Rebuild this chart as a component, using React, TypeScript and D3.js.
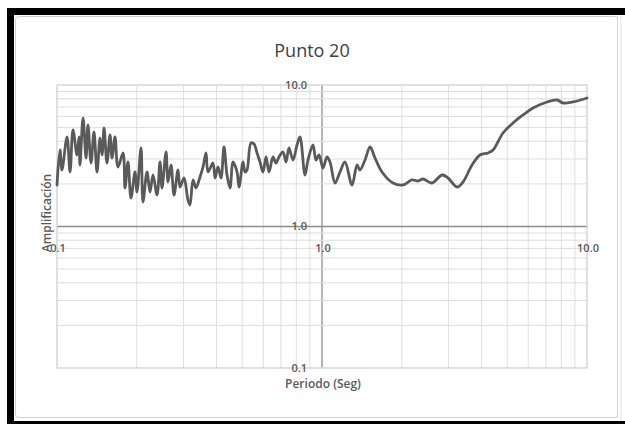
import React from "react";
import * as d3 from "d3";

const periods = [
  0.1, 0.1026, 0.1044, 0.1091, 0.112, 0.1149, 0.119, 0.1211, 0.1221, 0.1254,
  0.1287, 0.1309, 0.1344, 0.1379, 0.1416, 0.1453, 0.1479, 0.1505, 0.1544, 0.1585,
  0.1613, 0.1655, 0.1699, 0.1775, 0.1806, 0.1853, 0.1902, 0.197, 0.2004, 0.2075,
  0.2111, 0.2186, 0.2244, 0.2303, 0.2385, 0.2448, 0.249, 0.2579, 0.2624, 0.2693,
  0.2764, 0.2862, 0.2912, 0.3015, 0.3121, 0.3176, 0.326, 0.3346, 0.3464, 0.3556,
  0.365, 0.3714, 0.3879, 0.3947, 0.4051, 0.4158, 0.4268, 0.4381, 0.4497, 0.4616,
  0.4779, 0.4863, 0.5035, 0.5123, 0.5213, 0.5397, 0.554, 0.5686, 0.5836, 0.599,
  0.6149, 0.631, 0.6533, 0.6705, 0.6882, 0.7126, 0.7314, 0.7507, 0.7773, 0.8047,
  0.826, 0.8627, 0.8855, 0.9247, 0.9492, 0.9743, 1.009, 1.044, 1.072, 1.12,
  1.169, 1.221, 1.298, 1.356, 1.391, 1.453, 1.518, 1.585, 1.684, 1.853,
  2.021, 2.186, 2.303, 2.405, 2.601, 2.838, 2.989, 3.232, 3.405, 3.683,
  3.947, 4.231, 4.419, 4.82, 5.257, 5.735, 6.256, 7.065, 7.705, 8.117,
  8.855, 10.0,
];

const amplification = [
  1.965, 3.473, 2.508, 4.291, 2.428, 4.808, 3.201, 4.291, 2.72, 5.846,
  3.049, 5.214, 2.81, 4.654, 2.428, 4.222, 3.201, 4.967, 2.81, 4.433,
  3.049, 4.291, 2.633, 3.307, 1.871, 2.856, 1.59, 2.428, 1.753, 3.588,
  1.49, 2.428, 1.753, 2.312, 1.67, 2.856, 1.871, 3.361, 2.063, 2.72,
  1.67, 2.508, 1.902, 2.202, 1.539, 1.419, 2.132, 1.871, 2.238, 2.633,
  3.307, 2.428, 2.81, 2.202, 2.633, 2.202, 3.647, 2.312, 1.871, 2.856,
  2.428, 1.902, 2.856, 2.428, 2.508, 3.892, 3.829, 3.307, 2.856, 2.428,
  3.099, 2.428, 3.099, 2.81, 3.099, 3.361, 2.856, 3.588, 2.951, 3.767,
  4.291, 2.312, 2.951, 3.767, 2.951, 3.201, 2.591, 3.099, 2.856, 2.03,
  2.428, 2.856, 1.965, 2.72, 2.508, 2.951, 3.647, 3.049, 2.428, 2.03,
  1.965, 2.132, 2.097, 2.166, 2.03, 2.312, 2.202, 1.902, 2.063, 2.72,
  3.201, 3.307, 3.473, 4.579, 5.389, 6.138, 6.878, 7.584, 7.834, 7.461,
  7.584, 8.092,
];

const xTickValues = [0.1, 1, 10];
const xTickLabels = ["0.1", "1.0", "10.0"];
const yTickValues = [0.1, 1, 10];
const yTickLabels = ["0.1", "1.0", "10.0"];

const title = "Punto 20";
const xTitle = "Periodo (Seg)";
const yTitle = "Amplificación";

const W = 625;
const H = 424;
const left = 57;
const right = 587;
const top = 85;
const bottom = 368;

const font = "'Open Sans', 'Noto Sans', sans-serif";

export default function App() {
  const x = d3.scaleLog().domain([0.1, 10]).range([left, right]);
  const y = d3.scaleLog().domain([0.1, 10]).range([bottom, top]);

  const gridVals: number[] = [];
  [0.1, 1].forEach((d) => {
    for (let k = 1; k <= 9; k++) gridVals.push(+(k * d).toFixed(2));
  });
  gridVals.push(10);

  const data: [number, number][] = periods.map((p, i) => [p, amplification[i]]);
  const line = d3
    .line<[number, number]>()
    .x((d) => x(d[0]))
    .y((d) => y(d[1]))
    .curve(d3.curveCatmullRom.alpha(0.5));

  return (
    <svg
      width={W}
      height={H}
      style={{ position: "absolute", left: 0, top: 0, background: "#fff" }}
    >
      {/* photo frame */}
      <rect x={7} y={8} width={618} height={416} fill="#000" />
      <rect x={14} y={15} width={611} height={406} fill="#fff" />
      <rect
        x={15.5}
        y={16.5}
        width={602}
        height={401}
        rx={3}
        fill="#fff"
        stroke="#cfcfcf"
        strokeWidth={1}
      />
      <rect x={617} y={16} width={1} height={402} fill="#d6d6d6" />
      <rect x={620.5} y={16} width={1} height={405} fill="#e2e2e2" />

      {/* grid */}
      <g>
        {gridVals.map((v, i) => (
          <line
            key={"gx" + i}
            x1={x(v)}
            x2={x(v)}
            y1={top}
            y2={bottom}
            stroke={v === 1 ? "#8c8c8c" : "#dedede"}
            strokeWidth={v === 1 ? 1.3 : 1}
          />
        ))}
        {gridVals.map((v, i) => (
          <line
            key={"gy" + i}
            x1={left}
            x2={right}
            y1={y(v)}
            y2={y(v)}
            stroke={v === 1 ? "#8c8c8c" : "#dedede"}
            strokeWidth={v === 1 ? 1.3 : 1}
          />
        ))}
        <rect
          x={left}
          y={top}
          width={right - left}
          height={bottom - top}
          fill="none"
          stroke="#d2d2d2"
          strokeWidth={1}
        />
      </g>

      {/* data line */}
      <path
        d={line(data) || ""}
        fill="none"
        stroke="#5a5a5a"
        strokeWidth={2.8}
        strokeLinejoin="round"
        strokeLinecap="round"
      />

      {/* y tick labels at x = 1 */}
      {yTickValues.map((v, i) => (
        <text
          key={"yt" + i}
          x={x(1) - 15}
          y={y(v)}
          dy="0.35em"
          textAnchor="end"
          fontFamily={font}
          fontSize={11}
          fontWeight={600}
          fill="#595959"
        >
          {yTickLabels[i]}
        </text>
      ))}

      {/* x tick labels below y = 1 */}
      {xTickValues.map((v, i) => (
        <text
          key={"xt" + i}
          x={x(v) + 1}
          y={y(1) + 22}
          dy="0.35em"
          textAnchor="middle"
          fontFamily={font}
          fontSize={11}
          fontWeight={600}
          fill="#595959"
        >
          {xTickLabels[i]}
        </text>
      ))}

      {/* titles */}
      <text
        x={312}
        y={57}
        textAnchor="middle"
        fontFamily={font}
        fontSize={18}
        fill="#404040"
      >
        {title}
      </text>
      <text
        x={323}
        y={388}
        textAnchor="middle"
        fontFamily={font}
        fontSize={12}
        fontWeight={600}
        fill="#595959"
      >
        {xTitle}
      </text>
      <text
        transform={`translate(51, 213) rotate(-90)`}
        textAnchor="middle"
        fontFamily={font}
        fontSize={12}
        fontWeight={600}
        fill="#595959"
      >
        {yTitle}
      </text>
    </svg>
  );
}
